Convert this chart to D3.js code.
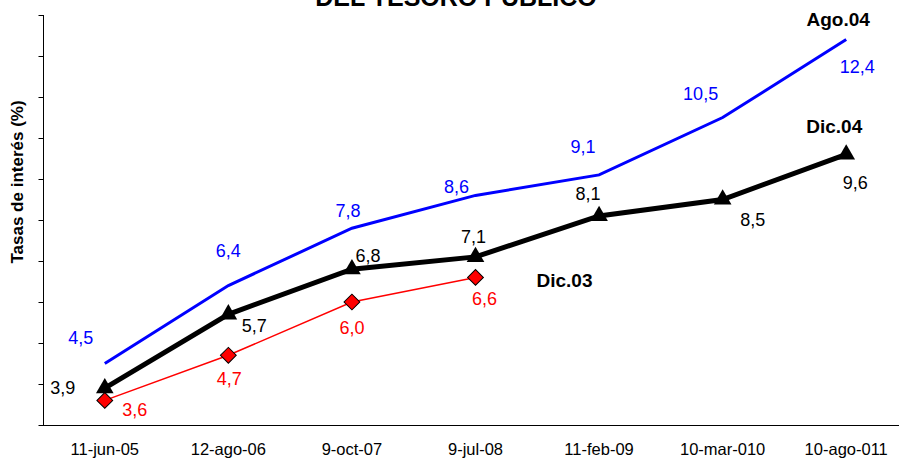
<!DOCTYPE html>
<html>
<head>
<meta charset="utf-8">
<script src="https://cdn.jsdelivr.net/npm/d3@7"></script>
<style>
html,body{margin:0;padding:0;background:#fff;}
svg{display:block;font-family:"Liberation Sans",Arial,sans-serif;}
</style>
</head>
<body>
<svg id="chart" width="899" height="458"></svg>
<script>
// ---- data ----
const categories = ["11-jun-05","12-ago-06","9-oct-07","9-jul-08","11-feb-09","10-mar-010","10-ago-011"];
const ago04 = [4.5, 6.4, 7.8, 8.6, 9.1, 10.5, 12.4];
const dic04 = [3.9, 5.7, 6.8, 7.1, 8.1, 8.5, 9.6];
const dic03 = [3.6, 4.7, 6.0, 6.6];
const yTicks = [3,4,5,6,7,8,9,10,11,12,13];
const titleText = "DEL TESORO PUBLICO";
const yAxisTitle = "Tasas de interés (%)";
const seriesNames = ["Ago.04","Dic.04","Dic.03"];

// ---- label offsets (styling, pixels relative to point) ----
const offAgo = [[-24,-20],[0,-29],[-4,-11],[-19,-2],[-16,-22],[-22,-18],[11,33]];
const offDic04 = [[-42,6],[26,18],[16,-7],[-2,-14],[-11,-16],[30,26],[9,35]];
const offDic03 = [[30,16],[1,30],[0,32],[9,28]];

const svg = d3.select("#chart");
const x = d3.scaleBand().domain(categories).range([43, 908]).padding(0);
const y = d3.scaleLinear().domain([3, 13]).range([425, 15]);
const cx = c => x(c) + x.bandwidth()/2;
const fmt = v => d3.format(".1f")(v).replace(".", ",");

// title (partially cut at top, as in the reference)
svg.append("text").attr("x", 456).attr("y", 6).attr("text-anchor","middle")
  .attr("font-size", 25).attr("font-weight","bold").text(titleText);

// y axis
const yAxis = d3.axisLeft(y).tickValues(yTicks).tickSize(5).tickFormat("");
const ga = svg.append("g").attr("transform","translate(43.5,0)").call(yAxis);
ga.select(".domain").attr("stroke","#000").attr("stroke-width",1).attr("d","M0,15V425");
ga.selectAll(".tick line").attr("stroke","#000");

// x axis
const xAxis = d3.axisBottom(x).tickSize(0).tickPadding(0);
const gx = svg.append("g").attr("transform","translate(0,425.5)").call(xAxis);
gx.select(".domain").attr("stroke","#000").attr("d","M43,0H899");
gx.selectAll(".tick text").attr("font-size",16.5).attr("fill","#000")
  .attr("dy",0).attr("y",29).attr("font-family","Liberation Sans, Arial, sans-serif");

// y axis title
svg.append("text").attr("transform","translate(23,182) rotate(-90)")
  .attr("text-anchor","middle").attr("font-size",17).attr("font-weight","bold")
  .text(yAxisTitle);

const line = d3.line().x(d => cx(d.c)).y(d => y(d.v));
const mk = arr => arr.map((v,i) => ({c: categories[i], v}));

// blue series
svg.append("path").datum(mk(ago04)).attr("d", line)
  .attr("fill","none").attr("stroke","#0000FF").attr("stroke-width",3);
// red series
svg.append("path").datum(mk(dic03)).attr("d", line)
  .attr("fill","none").attr("stroke","#FF0000").attr("stroke-width",1.5);
svg.selectAll(".dia").data(mk(dic03)).enter().append("path")
  .attr("d", d3.symbol().type(d3.symbolSquare).size(125)())
  .attr("transform", d => `translate(${cx(d.c)},${y(d.v)}) rotate(45)`)
  .attr("fill","#FF0000").attr("stroke","#000").attr("stroke-width",1);
// black series
svg.append("path").datum(mk(dic04)).attr("d", line)
  .attr("fill","none").attr("stroke","#000").attr("stroke-width",5).attr("stroke-linejoin","miter");
svg.selectAll(".tri").data(mk(dic04)).enter().append("path")
  .attr("d", d3.symbol().type(d3.symbolTriangle).size(135)())
  .attr("transform", d => `translate(${cx(d.c)},${y(d.v)})`)
  .attr("fill","#000");

// data labels
function labels(arr, offs, color){
  svg.append("g").selectAll("text").data(mk(arr)).enter().append("text")
    .attr("x", (d,i) => cx(d.c) + offs[i][0])
    .attr("y", (d,i) => y(d.v) + offs[i][1])
    .attr("text-anchor","middle").attr("font-size",18).attr("fill",color)
    .text(d => fmt(d.v));
}
labels(ago04, offAgo, "#0000FF");
labels(dic04, offDic04, "#000");
labels(dic03, offDic03, "#FF0000");

// series names
const last = (arr) => ({c: categories[arr.length-1], v: arr[arr.length-1]});
const lA = last(ago04), lB = last(dic04), lC = last(dic03);
svg.append("text").attr("x", cx(lA.c) - 8).attr("y", y(lA.v) - 14)
  .attr("text-anchor","middle").attr("font-size",19).attr("font-weight","bold").text(seriesNames[0]);
svg.append("text").attr("x", cx(lB.c) - 12).attr("y", y(lB.v) - 21)
  .attr("text-anchor","middle").attr("font-size",19).attr("font-weight","bold").text(seriesNames[1]);
svg.append("text").attr("x", cx(lC.c) + 61).attr("y", y(lC.v) + 10)
  .attr("text-anchor","start").attr("font-size",19).attr("font-weight","bold").text(seriesNames[2]);
</script>
</body>
</html>
